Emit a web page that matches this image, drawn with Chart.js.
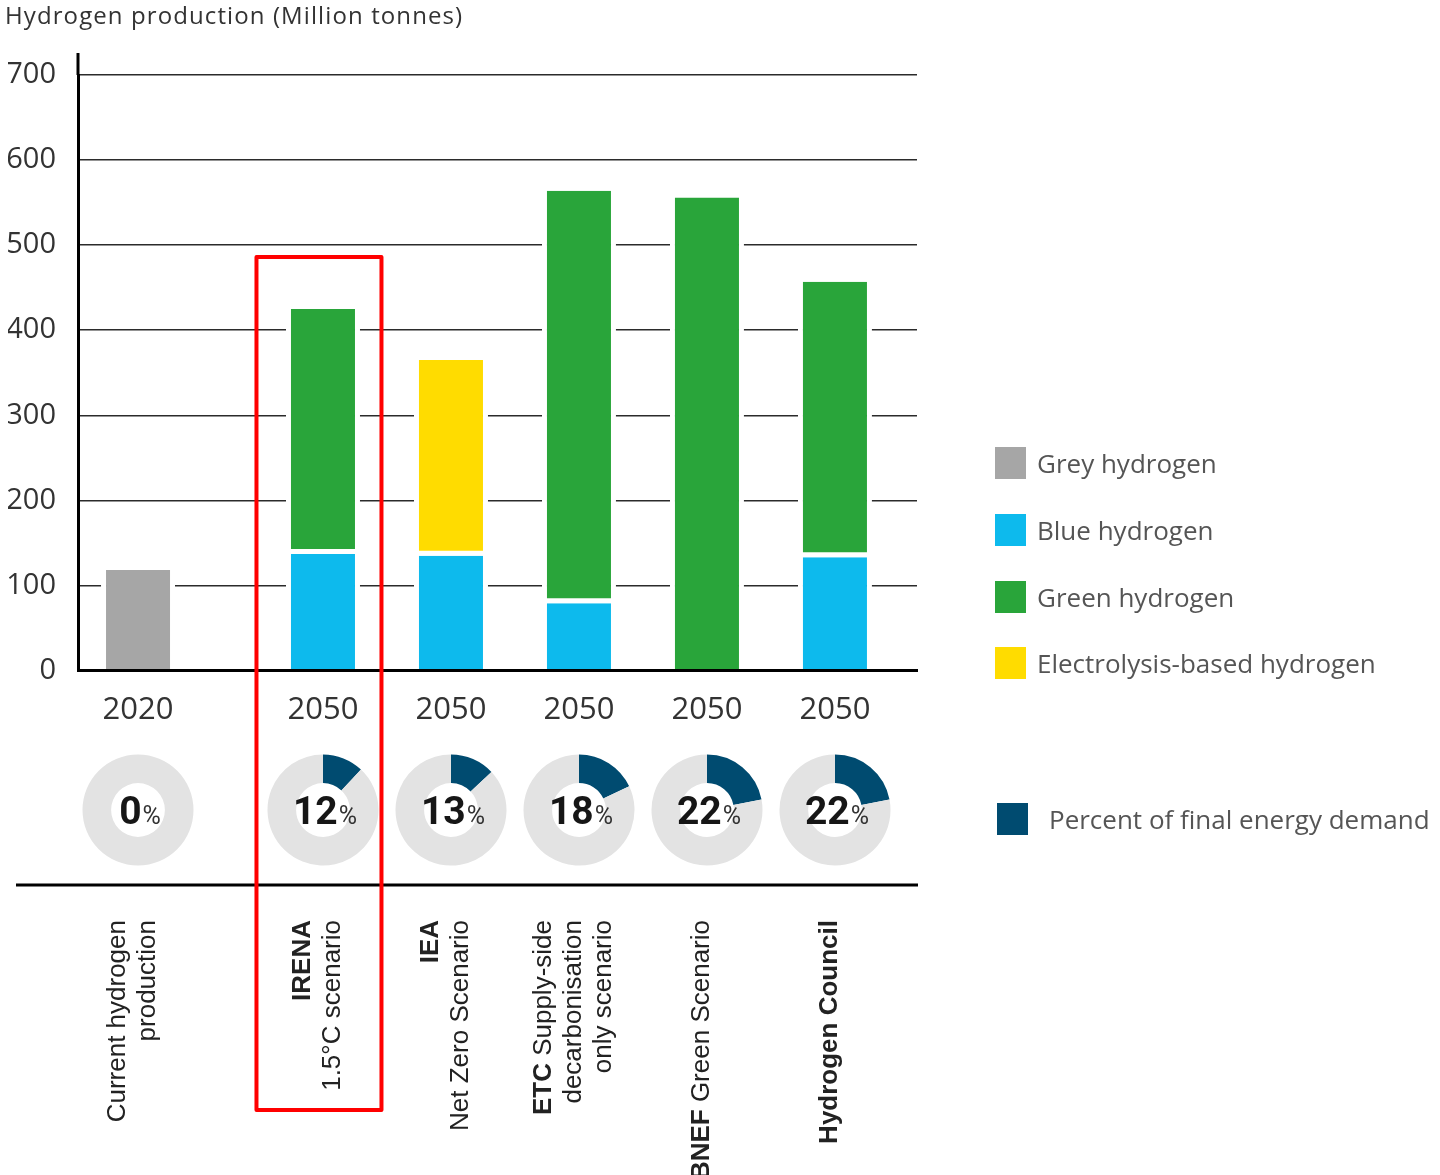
<!DOCTYPE html>
<html>
<head>
<meta charset="utf-8">
<script src="https://cdn.jsdelivr.net/npm/chart.js@4/dist/chart.umd.min.js"></script>
<style>
  html, body { margin: 0; padding: 0; background: #fff; }
  #wrap { position: relative; width: 1440px; height: 1175px; overflow: hidden; }
  #main { position: absolute; left: 0; top: 0; }
  .title { position: absolute; left: 5px; top: 0px; font-family: "Open Sans"; font-size: 24px; line-height: 30px; letter-spacing: 1.1px; color: #333; white-space: nowrap; }
  .leg { position: absolute; height: 32px; line-height: 32px; font-family: "Open Sans"; font-size: 26px; color: #555; white-space: nowrap; }
  .leg .sw { position: absolute; left: 0; top: 0; width: 31px; height: 32px; }
  .leg .tx { position: absolute; top: 0; }
  .donut { position: absolute; width: 130px; height: 130px; }
</style>
</head>
<body>
<div id="wrap">
  <canvas id="main" width="1440" height="1175"></canvas>
  <div class="title">Hydrogen production (Million tonnes)</div>
  <div id="legend"></div>
</div>
<script>
// ---------------- DATA ----------------
const yearLabels = ['2020', '2050', '2050', '2050', '2050', '2050'];
const scenarioLabelLines = [
  ['Current hydrogen', 'production'],
  ['**IRENA**', '1.5°C scenario'],
  ['**IEA**', 'Net Zero Scenario'],
  ['**ETC** Supply-side', 'decarbonisation', 'only scenario'],
  ['**BNEF** Green Scenario'],
  ['**Hydrogen Council**']
];
const seriesNames = ['Grey hydrogen', 'Blue hydrogen', 'Green hydrogen', 'Electrolysis-based hydrogen'];
const greyHydrogen = [118, 0, 0, 0, 0, 0];
const blueHydrogen = [0, 137, 135, 79, 0, 133];
const greenHydrogen = [0, 288, 0, 485, 556, 324];
const electrolysisHydrogen = [0, 0, 230, 0, 0, 0];
const finalEnergyShare = [0, 12, 13, 18, 22, 22];
const shareLegendLabel = 'Percent of final energy demand';
const yTickValues = [0, 100, 200, 300, 400, 500, 600, 700];
const highlightedScenario = 1;

// ---------------- LAYOUT / STYLE ----------------
const COLORS = { grey: '#a6a6a6', blue: '#0dbaed', green: '#29a53a', yellow: '#ffdc00', navy: '#004b70', ring: '#e3e3e3' };
const SLOT = [0, 1.445, 2.445, 3.445, 4.445, 5.445];   // placement of each column along the x axis
const X_MIN = -0.469, X_MAX = 6.086;
const SEP_Y = 885, LABEL_TOP_Y = 920, DONUT_CY = 809.5, BOX_BOTTOM_Y = 1110;

function gapBorder(below) {
  return (ctx) => ({ top: 0, left: 5, right: 5,
    bottom: (below && ctx.dataIndex !== undefined && below[ctx.dataIndex] > 0) ? 5 : 0 });
}
function makeDataset(label, values, color, below) {
  return {
    label,
    data: values.map((v, i) => ({ x: SLOT[i], y: v })),
    backgroundColor: color,
    borderColor: '#ffffff',
    borderWidth: gapBorder(below),
    borderSkipped: false,
    inflateAmount: 0,
    barThickness: 74
  };
}

const extras = {
  id: 'extras',
  afterDraw(chart) {
    const { ctx, chartArea, scales } = chart;
    const xs = scales.x, ys = scales.y;
    ctx.save();
    ctx.strokeStyle = '#000'; ctx.lineWidth = 3;
    ctx.beginPath(); ctx.moveTo(chartArea.left, chartArea.top - 22); ctx.lineTo(chartArea.left, chartArea.top); ctx.stroke();
    ctx.beginPath(); ctx.moveTo(16, SEP_Y); ctx.lineTo(chartArea.right + 1, SEP_Y); ctx.stroke();
    ctx.fillStyle = '#222';
    ctx.textBaseline = 'middle';
    ctx.textAlign = 'left';
    const lineGap = 30;
    scenarioLabelLines.forEach((lines, i) => {
      const cx = xs.getPixelForValue(SLOT[i]) - 5;
      ctx.save();
      ctx.translate(cx, LABEL_TOP_Y);
      ctx.rotate(-Math.PI / 2);
      const n = lines.length;
      lines.forEach((line, k) => {
        const ly = (k - (n - 1) / 2) * lineGap;
        const segs = line.split('**').map((t, j) => ({ t, b: j % 2 === 1 })).filter(s => s.t.length);
        let total = 0;
        segs.forEach(s => { ctx.font = (s.b ? 'bold ' : '') + '26px "Liberation Sans"'; s.w = ctx.measureText(s.t).width; total += s.w; });
        let x = -total;
        segs.forEach(s => { ctx.font = (s.b ? 'bold ' : '') + '26px "Liberation Sans"'; ctx.fillText(s.t, x, ly); x += s.w; });
      });
      ctx.restore();
    });
    const hx = xs.getPixelForValue(SLOT[highlightedScenario]) - 4;
    const top = ys.getPixelForValue(486);
    ctx.strokeStyle = '#ff0000'; ctx.lineWidth = 4; ctx.lineJoin = 'round';
    ctx.strokeRect(hx - 62.5, top, 125, BOX_BOTTOM_Y - top);
    ctx.restore();
  }
};

const chart = new Chart(document.getElementById('main'), {
  type: 'bar',
  data: {
    datasets: [
      makeDataset(seriesNames[0], greyHydrogen, COLORS.grey, null),
      makeDataset(seriesNames[1], blueHydrogen, COLORS.blue, null),
      makeDataset(seriesNames[2], greenHydrogen, COLORS.green, blueHydrogen),
      makeDataset(seriesNames[3], electrolysisHydrogen, COLORS.yellow, blueHydrogen)
    ]
  },
  options: {
    responsive: false,
    animation: false,
    devicePixelRatio: 1,
    layout: { padding: { left: 8, right: 523, top: 75, bottom: 434.5 } },
    plugins: { legend: { display: false }, tooltip: { enabled: false }, title: { display: false } },
    scales: {
      x: {
        type: 'linear', stacked: true, min: X_MIN, max: X_MAX, offset: false,
        grid: { display: false, drawTicks: false, offset: false },
        border: { display: true, color: '#000', width: 3, z: 1 },
        afterBuildTicks: (s) => { s.ticks = SLOT.map(v => ({ value: v })); },
        afterFit: (s) => { s.height = 70; },
        ticks: { autoSkip: false, maxRotation: 0, padding: 21, color: '#333',
          font: { family: 'Open Sans', size: 31 },
          callback: (v, i) => yearLabels[i] }
      },
      y: {
        stacked: true, min: 0, max: 700,
        afterBuildTicks: (s) => { s.ticks = yTickValues.map(v => ({ value: v })); },
        afterFit: (s) => { s.width = 70; },
        grid: { color: '#2b2b2b', lineWidth: 1.5, drawTicks: false },
        border: { display: true, color: '#000', width: 3, z: 1 },
        ticks: { padding: 22, color: '#333', font: { family: 'Open Sans', size: 29 } }
      }
    }
  },
  plugins: [extras]
});

// ---------------- DONUTS ----------------
const donutText = {
  id: 'donutText',
  afterDraw(c) {
    const { ctx, chartArea } = c;
    const cx = (chartArea.left + chartArea.right) / 2 + 2;
    const cy = (chartArea.top + chartArea.bottom) / 2;
    const num = String(c.config.options.plugins.donutText.value);
    ctx.save();
    ctx.textBaseline = 'alphabetic';
    ctx.textAlign = 'left';
    ctx.font = 'bold 39px Roboto';
    const w1 = ctx.measureText(num).width;
    ctx.font = '25px Roboto';
    const w2 = ctx.measureText('%').width;
    let x = cx - (w1 + w2 + 1) / 2;
    ctx.font = 'bold 39px Roboto'; ctx.fillStyle = '#161616';
    ctx.fillText(num, x, cy + 14);
    ctx.font = '25px Roboto'; ctx.fillStyle = '#333';
    ctx.fillText('%', x + w1 + 1, cy + 14);
    ctx.restore();
  }
};

const wrap = document.getElementById('wrap');
finalEnergyShare.forEach((pct, i) => {
  const px = chart.scales.x.getPixelForValue(SLOT[i]);
  const div = document.createElement('div');
  div.className = 'donut';
  div.style.left = (px - 65) + 'px';
  div.style.top = (DONUT_CY - 65) + 'px';
  const cv = document.createElement('canvas');
  cv.width = 130; cv.height = 130;
  div.appendChild(cv);
  wrap.appendChild(div);
  new Chart(cv, {
    type: 'doughnut',
    data: { labels: [shareLegendLabel, 'Other'], datasets: [{ data: [pct, 100 - pct], backgroundColor: [COLORS.navy, COLORS.ring], borderWidth: 0 }] },
    options: {
      responsive: false, animation: false, devicePixelRatio: 1,
      radius: 55.5, cutout: 31.5,
      plugins: { legend: { display: false }, tooltip: { enabled: false }, donutText: { value: pct } }
    },
    plugins: [donutText]
  });
});

// ---------------- LEGEND ----------------
const legend = document.getElementById('legend');
const legendItems = [
  { name: seriesNames[0], color: COLORS.grey, top: 447, left: 995, textLeft: 42 },
  { name: seriesNames[1], color: COLORS.blue, top: 514, left: 995, textLeft: 42 },
  { name: seriesNames[2], color: COLORS.green, top: 581, left: 995, textLeft: 42 },
  { name: seriesNames[3], color: COLORS.yellow, top: 647, left: 995, textLeft: 42 },
  { name: shareLegendLabel, color: COLORS.navy, top: 803, left: 997, textLeft: 52 }
];
legendItems.forEach(it => {
  const d = document.createElement('div');
  d.className = 'leg';
  d.style.left = it.left + 'px';
  d.style.top = it.top + 'px';
  const sw = document.createElement('span'); sw.className = 'sw'; sw.style.background = it.color;
  const tx = document.createElement('span'); tx.className = 'tx'; tx.style.left = it.textLeft + 'px'; tx.textContent = it.name;
  d.appendChild(sw); d.appendChild(tx);
  legend.appendChild(d);
});
</script>
</body>
</html>
